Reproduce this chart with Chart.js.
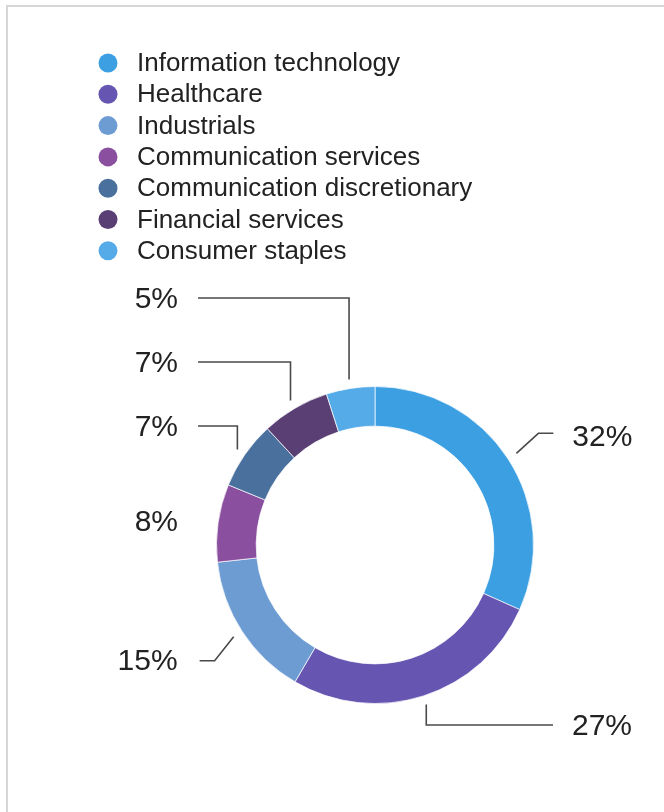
<!DOCTYPE html>
<html>
<head>
<meta charset="utf-8">
<script src="https://cdn.jsdelivr.net/npm/chart.js@4"></script>
<style>
  html, body { margin: 0; padding: 0; background: #ffffff; }
  #wrap { position: relative; width: 664px; height: 812px; overflow: hidden; }
  #frame { position: absolute; left: 6px; top: 5px; right: -4px; bottom: -4px;
           border-top: 2px solid #d6d6d6; border-left: 2px solid #d6d6d6; }
  canvas { position: absolute; left: 0; top: 0; }
</style>
</head>
<body>
<div id="wrap">
  <div id="frame"></div>
  <canvas id="chart" width="664" height="812"></canvas>
</div>
<script>
// Sector weights of the portfolio, in percent
const sectors = [
  'Information technology',
  'Healthcare',
  'Industrials',
  'Communication services',
  'Communication discretionary',
  'Financial services',
  'Consumer staples'
];
const weights = [32, 27, 15, 8, 7, 7, 5];
const sectorColors = ['#3c9fe2', '#6656b2', '#6c9cd2', '#8a4f9f', '#4a709e', '#5a3f75', '#55abe8'];

const FONT = '"Liberation Sans", Arial, Helvetica, sans-serif';

// Leader-line layout for each slice label:
//  kind 'diag'  : short slanted stroke (dx, dy) from the ring, then a horizontal tail
//  kind 'elbow' : vertical stroke from the ring to the label row, then horizontal
//  kind 'none'  : label sits level with the slice, no line
//  row          : vertical offset of the label row from the ring centre
const leaderLayout = [
  { side: 'right', kind: 'diag', dx: 22, dy: -20, tail: 15 },
  { side: 'right', kind: 'elbow', row: 180 },
  { side: 'left',  kind: 'diag', dx: -19, dy: 24, tail: 15 },
  { side: 'left',  kind: 'none' },
  { side: 'left',  kind: 'elbow', row: -119 },
  { side: 'left',  kind: 'elbow', row: -183 },
  { side: 'left',  kind: 'elbow', row: -247 }
];

// Vertical legend list drawn above the ring
const legendList = {
  id: 'legendList',
  afterDraw(chart) {
    const ctx = chart.ctx;
    const ds = chart.data.datasets[0];
    ctx.save();
    ctx.font = '26px ' + FONT;
    ctx.textBaseline = 'middle';
    ctx.textAlign = 'left';
    chart.data.labels.forEach((label, i) => {
      const y = 63 + i * 31.3;
      ctx.beginPath();
      ctx.fillStyle = ds.backgroundColor[i];
      ctx.arc(108, y, 9.5, 0, Math.PI * 2);
      ctx.fill();
      ctx.fillStyle = '#222222';
      ctx.fillText(label, 137, y + 1);
    });
    ctx.restore();
  }
};

// Percentage labels with leader lines
const sliceLabels = {
  id: 'sliceLabels',
  afterDatasetsDraw(chart) {
    const ctx = chart.ctx;
    const meta = chart.getDatasetMeta(0);
    const values = chart.data.datasets[0].data;
    ctx.save();
    ctx.strokeStyle = '#4a4a4a';
    ctx.lineWidth = 1.6;
    ctx.fillStyle = '#222222';
    ctx.font = '30px ' + FONT;
    ctx.textBaseline = 'middle';
    meta.data.forEach((arc, i) => {
      const p = arc.getProps(['x', 'y', 'startAngle', 'endAngle', 'outerRadius'], true);
      const mid = (p.startAngle + p.endAngle) / 2;
      const cx = p.x, cy = p.y, R = p.outerRadius;
      const at = r => [cx + r * Math.cos(mid), cy + r * Math.sin(mid)];
      const lay = leaderLayout[i];
      const leftCol = cx - 177, rightCol = cx + 178;
      let tx, ty;
      ctx.beginPath();
      if (lay.kind === 'diag') {
        const a = at(R + 10);
        const b = [a[0] + lay.dx, a[1] + lay.dy];
        const tail = lay.side === 'right' ? b[0] + lay.tail : b[0] - lay.tail;
        ctx.moveTo(a[0], a[1]);
        ctx.lineTo(b[0], b[1]);
        ctx.lineTo(tail, b[1]);
        tx = lay.side === 'right' ? tail + 19 : tail - 22;
        ty = lay.side === 'right' ? b[1] + 4 : b[1] + 1;
      } else if (lay.kind === 'elbow') {
        const a = at(R + 9);
        const rowY = cy + lay.row;
        const end = lay.side === 'right' ? rightCol : leftCol;
        ctx.moveTo(a[0], a[1]);
        ctx.lineTo(a[0], rowY);
        ctx.lineTo(end, rowY);
        tx = lay.side === 'right' ? end + 19 : end - 20;
        ty = rowY + 2;
      } else {
        tx = leftCol - 20;
        ty = at(R)[1];
      }
      ctx.stroke();
      ctx.textAlign = lay.side === 'right' ? 'left' : 'right';
      ctx.fillText(values[i] + '%', tx, ty);
    });
    ctx.restore();
  }
};

new Chart(document.getElementById('chart'), {
  type: 'doughnut',
  data: {
    labels: sectors,
    datasets: [{
      data: weights,
      backgroundColor: sectorColors,
      borderColor: 'rgba(255,255,255,0.7)',
      borderWidth: 1,
      hoverOffset: 0
    }]
  },
  options: {
    responsive: false,
    animation: false,
    cutout: '75%',
    layout: { padding: { left: 216, right: 130, top: 386, bottom: 108 } },
    plugins: {
      legend: { display: false },
      tooltip: { enabled: false }
    }
  },
  plugins: [legendList, sliceLabels]
});
</script>
</body>
</html>
